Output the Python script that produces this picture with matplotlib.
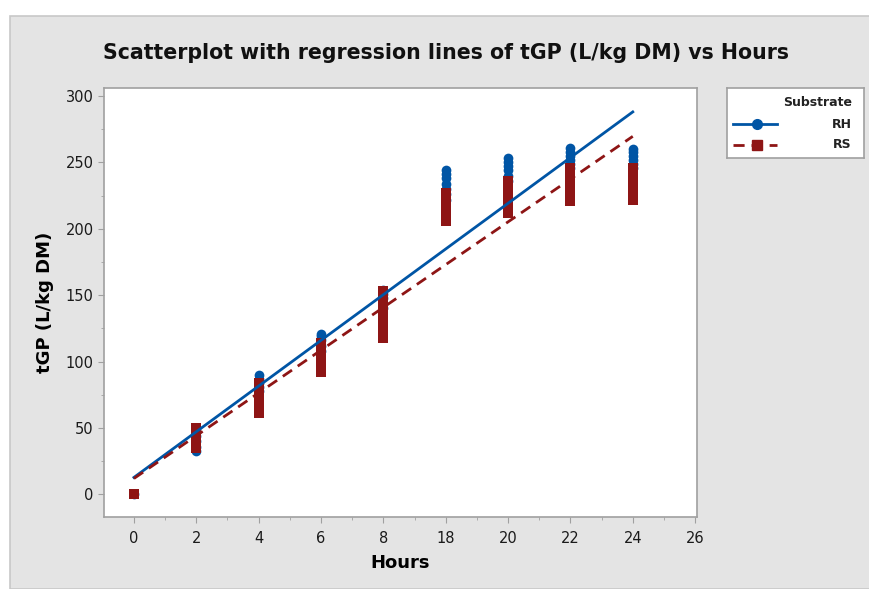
import matplotlib.pyplot as plt
import matplotlib.patches as mpatches
import numpy as np

# hours shown on the axis (equally spaced, treated as categories)
hours = [0, 2, 4, 6, 8, 18, 20, 22, 24]
tick_labels = ['0', '2', '4', '6', '8', '18', '20', '22', '24', '26']

# observations per hour
rh_vals = [
    [0],
    [33, 36, 40, 44, 47, 50],
    [78, 81, 84, 87, 90],
    [108, 112, 116, 119, 121],
    [140, 144, 148, 151, 154],
    [222, 226, 230, 234, 238, 241, 244],
    [236, 240, 244, 247, 250, 253],
    [246, 249, 252, 255, 258, 261],
    [246, 249, 252, 255, 258, 260],
]
rs_vals = [
    [0],
    [35, 38, 41, 44, 47, 50],
    [61, 64, 68, 72, 76, 80, 84],
    [92, 95, 99, 103, 107, 111, 114],
    [118, 122, 126, 130, 134, 138, 142, 146, 150, 153],
    [206, 209, 213, 217, 221, 224, 227],
    [212, 216, 220, 224, 228, 232, 236],
    [221, 225, 229, 233, 237, 241, 246],
    [222, 226, 230, 234, 238, 242, 246],
]
# regression lines (intercept, slope per step)
rh_fit = [12.8, 34.4]
rs_fit = [12.0, 32.2]

blue = '#0055A5'
red = '#8E1515'
panel = '#E4E4E4'

fig = plt.figure(figsize=(8.69, 5.89), dpi=100)
fig.patch.set_facecolor('white')
fig.patches.append(mpatches.Rectangle((10/869, 0), 1, (589-16)/589, transform=fig.transFigure,
                                      facecolor=panel, edgecolor='#C8C8C8', linewidth=1.2, zorder=-1))

ax = fig.add_axes([104/869, 72/589, 593/869, 429/589])
ax.set_facecolor('white')

pos = np.arange(len(hours))
for i in pos:
    ax.plot([i]*len(rh_vals[i]), rh_vals[i], 'o', color=blue, ms=7, mew=0, zorder=3)
for i in pos:
    ax.plot([i]*len(rs_vals[i]), rs_vals[i], 's', color=red, ms=7.3, mew=0, zorder=4)

xx = np.array([0, 8])
ax.plot(xx, rh_fit[0] + rh_fit[1]*xx, '-', color=blue, lw=2, zorder=5)
ax.plot(xx, rs_fit[0] + rs_fit[1]*xx, '--', color=red, lw=2, dashes=(4, 2.5), zorder=5)

ax.set_xticks(np.arange(len(tick_labels)))
ax.set_xticklabels(tick_labels)
ax.set_xticks(np.arange(len(tick_labels) - 1) + 0.5, minor=True)
ax.set_yticks([0, 50, 100, 150, 200, 250, 300])
ax.set_yticks(np.arange(25, 300, 50), minor=True)
ax.set_xlim(-0.48, 9.03)
ax.set_ylim(-17, 306)
for s in ax.spines.values():
    s.set_color('#A0A0A0')
    s.set_linewidth(1.2)
ax.tick_params(which='both', color='#A0A0A0', labelsize=10.5, labelcolor='#1A1A1A')
ax.tick_params(axis='y', which='major', length=4)
ax.tick_params(axis='y', which='minor', length=2.5)
ax.tick_params(axis='x', which='major', length=4, pad=6)
ax.tick_params(axis='x', which='minor', length=2.5)

ax.set_xlabel('Hours', fontsize=13, fontweight='bold', labelpad=6)
ax.set_ylabel('tGP (L/kg DM)', fontsize=13, fontweight='bold', labelpad=8)
fig.text(446/869, 1 - 53/589, 'Scatterplot with regression lines of tGP (L/kg DM) vs Hours',
         ha='center', va='center', fontsize=14.8, fontweight='bold', color='#111111')

# legend panel
lg = fig.add_axes([727/869, 1 - 158/589, 137/869, 70/589])
lg.set_xlim(0, 137)
lg.set_ylim(70, 0)
lg.set_xticks([])
lg.set_yticks([])
for s in lg.spines.values():
    s.set_color('#A0A0A0')
    s.set_linewidth(1.2)
lg.text(125, 15, 'Substrate', ha='right', va='center', fontsize=9, fontweight='bold', color='#222222')
lg.plot([6, 50], [36, 36], '-', color=blue, lw=2)
lg.plot([30], [36], 'o', color=blue, ms=7)
lg.text(125, 36, 'RH', ha='right', va='center', fontsize=9, fontweight='bold', color='#222222')
lg.plot([6, 50], [57, 57], '--', color=red, lw=2, dashes=(4, 2.5))
lg.plot([30], [57], 's', color=red, ms=7.3)
lg.text(125, 57, 'RS', ha='right', va='center', fontsize=9, fontweight='bold', color='#222222')

fig.savefig('out.png', dpi=100)
